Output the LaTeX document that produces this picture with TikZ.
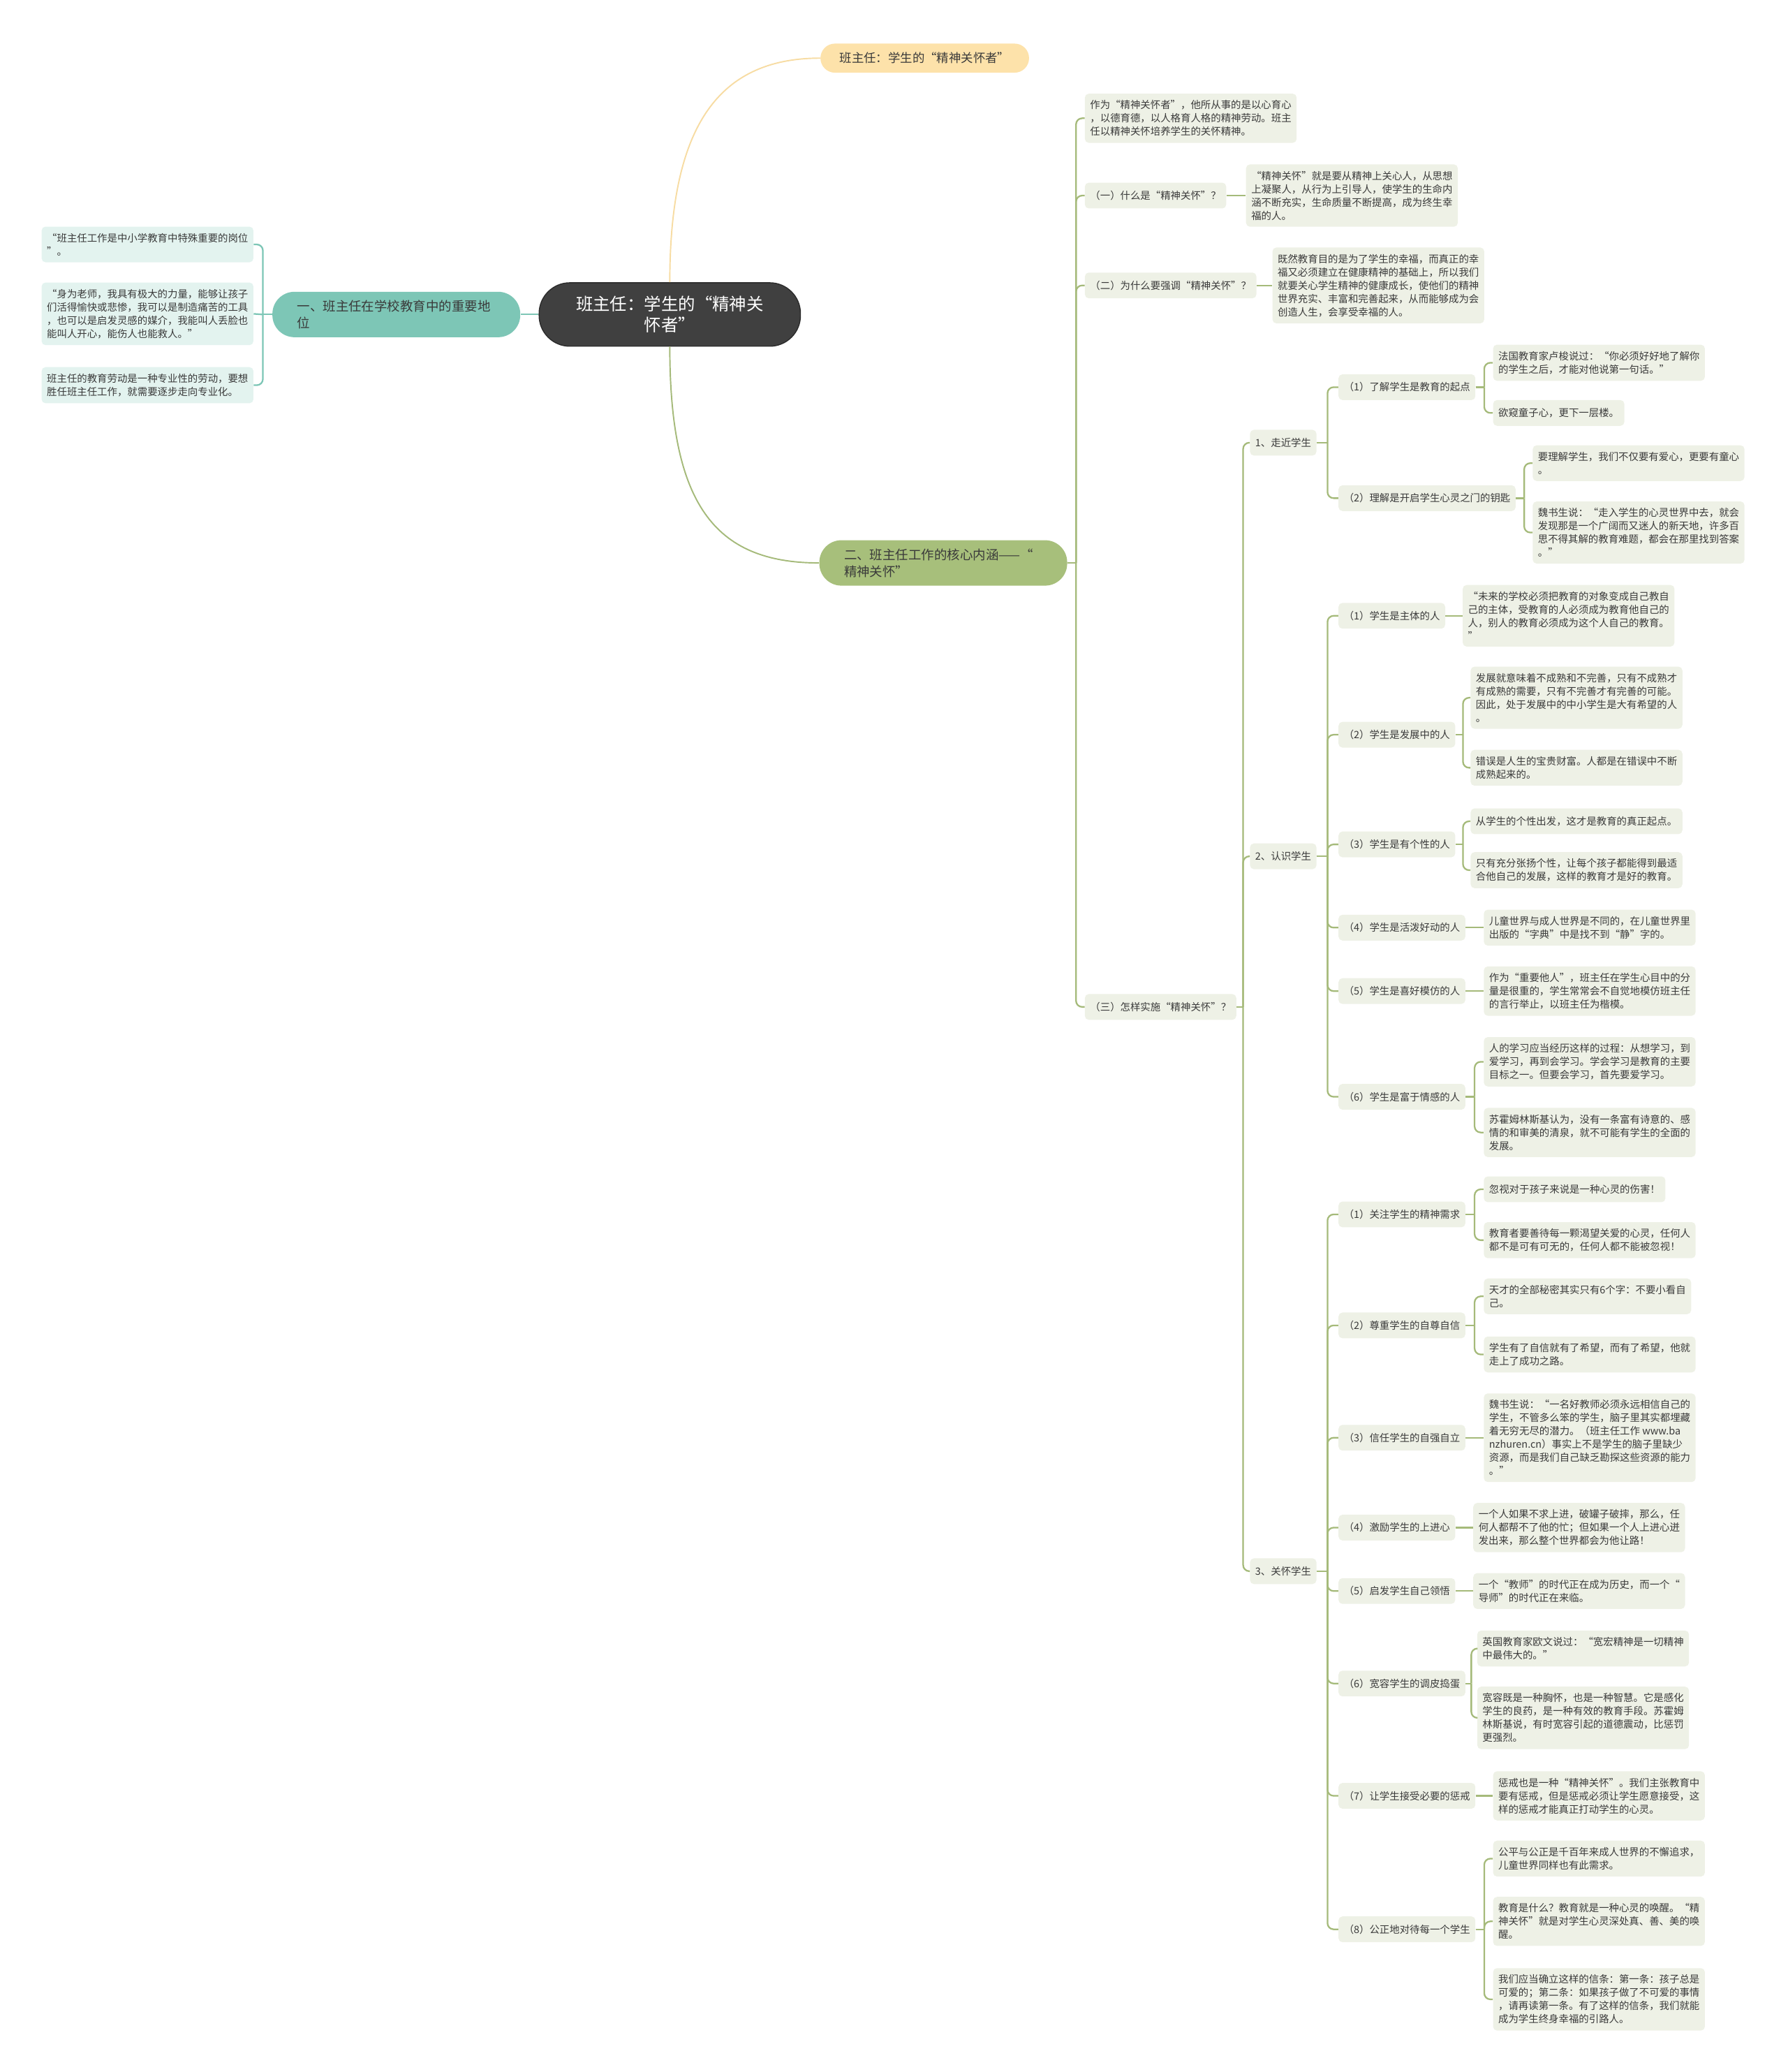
\documentclass[tikz,border=0pt]{standalone}
\usepackage{fontspec}
\setmainfont{Noto Sans CJK SC}
\usetikzlibrary{positioning,calc}
\definecolor{inkcol}{HTML}{3A3A3A}
\definecolor{leaffill}{HTML}{EEF1E6}
\definecolor{branchcol}{HTML}{A5BA7A}
\definecolor{tealcol}{HTML}{7DC6B6}
\definecolor{tealleaffill}{HTML}{E3F3EF}
\definecolor{goldcol}{HTML}{F7DCA3}
\definecolor{goldfill}{HTML}{FDE2AA}
\definecolor{olivefill}{HTML}{A7BF7B}
\definecolor{rootfill}{HTML}{404040}
\definecolor{rootedge}{HTML}{2B2B2B}
\newcommand{\leaffont}{\fontsize{8.2pt}{10.8pt}\selectfont}
\newcommand{\bigtopicfont}{\fontsize{10.5pt}{13.5pt}\selectfont}
\newcommand{\rootfont}{\fontsize{13.9pt}{17.2pt}\selectfont}

\begin{document}
\begin{tikzpicture}[x=0.03784cm, y=-0.03784cm,
        leaf/.style={fill=leaffill, text=inkcol, rounded corners=3.2pt, inner xsep=4.3pt, inner ysep=5.4pt,
            minimum height=21pt, align=left, anchor=west, font=\leaffont},
        tealleaf/.style={leaf, fill=tealleaffill, anchor=east},
        rootnode/.style={fill=rootfill, draw=rootedge, line width=0.8pt, text=white, align=center,
            rounded corners=25pt, minimum width=213pt, minimum height=51.7pt, font=\rootfont},
        goldnode/.style={fill=goldfill, text=inkcol, rounded corners=11.8pt, minimum width=170pt,
            minimum height=23.7pt, font=\fontsize{9.9pt}{12pt}\selectfont},
        bigtopic/.style={text=inkcol, rounded corners=18pt, minimum width=202pt, minimum height=37pt,
            text width=161.6pt, align=left, font=\bigtopicfont},
        branch/.style={draw=branchcol, line width=1.3pt, rounded corners=5pt},
        tealline/.style={draw=tealcol, line width=1.3pt, rounded corners=5pt},
        goldline/.style={draw=goldcol, line width=1.1pt},
        oliveline/.style={draw=branchcol, line width=1.1pt}
    ]
    \useasboundingbox (0,0) rectangle (1353,1568);

    % centre and first level
    \node[rootnode] (root) at (507,238) {班主任：学生的“精神关\\怀者”};
    \node[goldnode] (gold) at (700,44) {班主任：学生的“精神关怀者”};
    \node[bigtopic, fill=tealcol] (teal) at (300,238) {一、班主任在学校教育中的重要地\\位};
    \node[bigtopic, fill=olivefill] (olive) at (714,426) {二、班主任工作的核心内涵——“\\精神关怀”};

    \draw[goldline] (root.north) .. controls +(0,-114) and +(-80,0) .. (gold.west);
    \draw[oliveline] (root.south) .. controls +(0,118) and +(-80,0) .. (olive.west);
    \draw[tealline] (root) -- (teal);

    % left branch
    \node[tealleaf] (L1) at (192,185) {“班主任工作是中小学教育中特殊重要的岗位\\”。};
    \node[tealleaf] (L2) at (192,237.5) {“身为老师，我具有极大的力量，能够让孩子\\们活得愉快或悲惨，我可以是制造痛苦的工具\\，也可以是启发灵感的媒介，我能叫人丢脸也\\能叫人开心，能伤人也能救人。”};
    \node[tealleaf] (L3) at (192,291.5) {班主任的教育劳动是一种专业性的劳动，要想\\胜任班主任工作，就需要逐步走向专业化。};

    \coordinate (jteal) at ($(teal.west)!0.5!(teal.west -| L1.east)$);
    \draw[tealline, sharp corners] (teal.west) -- (jteal);
    \foreach \c in {L1,L3}
        \draw[tealline] (jteal) |- (\c.east);
    \draw[tealline, sharp corners] (jteal) -- (L2.east);

    % right branch, second level
    \node[leaf] (A) at (821,89.5) {作为“精神关怀者”，他所从事的是以心育心\\，以德育德，以人格育人格的精神劳动。班主\\任以精神关怀培养学生的关怀精神。};
    \node[leaf] (B) at (821,148) {（一）什么是“精神关怀”？};
    \node[leaf] (Bl) at (943,148) {“精神关怀”就是要从精神上关心人，从思想\\上凝聚人，从行为上引导人，使学生的生命内\\涵不断充实，生命质量不断提高，成为终生幸\\福的人。};
    \node[leaf] (C) at (821,216) {（二）为什么要强调“精神关怀”？};
    \node[leaf] (Cl) at (963,216) {既然教育目的是为了学生的幸福，而真正的幸\\福又必须建立在健康精神的基础上，所以我们\\就要关心学生精神的健康成长，使他们的精神\\世界充实、丰富和完善起来，从而能够成为会\\创造人生，会享受幸福的人。};
    \node[leaf] (D) at (821,762) {（三）怎样实施“精神关怀”？};

    \node[leaf] (D1) at (946,335) {1、走近学生};
    \node[leaf] (D2) at (946,648) {2、认识学生};
    \node[leaf] (D3) at (946,1189) {3、关怀学生};

    % 1、走近学生
    \node[leaf] (D1a) at (1013,293) {（1）了解学生是教育的起点};
    \node[leaf] (D1a1) at (1130,274.5) {法国教育家卢梭说过：“你必须好好地了解你\\的学生之后，才能对他说第一句话。”};
    \node[leaf] (D1a2) at (1130,312.5) {欲窥童子心，更下一层楼。};
    \node[leaf] (D1b) at (1013,377) {（2）理解是开启学生心灵之门的钥匙};
    \node[leaf] (D1b1) at (1160,350.5) {要理解学生，我们不仅要有爱心，更要有童心\\。};
    \node[leaf] (D1b2) at (1160,403) {魏书生说：“走入学生的心灵世界中去，就会\\发现那是一个广阔而又迷人的新天地，许多百\\思不得其解的教育难题，都会在那里找到答案\\。”};

    % 2、认识学生
    \node[leaf] (D2a) at (1013,466) {（1）学生是主体的人};
    \node[leaf] (D2a1) at (1107,466) {“未来的学校必须把教育的对象变成自己教自\\己的主体，受教育的人必须成为教育他自己的\\人，别人的教育必须成为这个人自己的教育。\\”};
    \node[leaf] (D2b) at (1013,556) {（2）学生是发展中的人};
    \node[leaf] (D2b1) at (1113,528) {发展就意味着不成熟和不完善，只有不成熟才\\有成熟的需要，只有不完善才有完善的可能。\\因此，处于发展中的中小学生是大有希望的人\\。};
    \node[leaf] (D2b2) at (1113,581) {错误是人生的宝贵财富。人都是在错误中不断\\成熟起来的。};
    \node[leaf] (D2c) at (1013,639) {（3）学生是有个性的人};
    \node[leaf] (D2c1) at (1113,621.5) {从学生的个性出发，这才是教育的真正起点。};
    \node[leaf] (D2c2) at (1113,658.5) {只有充分张扬个性，让每个孩子都能得到最适\\合他自己的发展，这样的教育才是好的教育。};
    \node[leaf] (D2d) at (1013,702) {（4）学生是活泼好动的人};
    \node[leaf] (D2d1) at (1123,702) {儿童世界与成人世界是不同的，在儿童世界里\\出版的“字典”中是找不到“静”字的。};
    \node[leaf] (D2e) at (1013,750) {（5）学生是喜好模仿的人};
    \node[leaf] (D2e1) at (1123,750) {作为“重要他人”，班主任在学生心目中的分\\量是很重的，学生常常会不自觉地模仿班主任\\的言行举止，以班主任为楷模。};
    \node[leaf] (D2f) at (1013,830) {（6）学生是富于情感的人};
    \node[leaf] (D2f1) at (1123,803.5) {人的学习应当经历这样的过程：从想学习，到\\爱学习，再到会学习。学会学习是教育的主要\\目标之一。但要会学习，首先要爱学习。};
    \node[leaf] (D2f2) at (1123,857) {苏霍姆林斯基认为，没有一条富有诗意的、感\\情的和审美的清泉，就不可能有学生的全面的\\发展。};

    % 3、关怀学生
    \node[leaf] (D3a) at (1013,919) {（1）关注学生的精神需求};
    \node[leaf] (D3a1) at (1123,900) {忽视对于孩子来说是一种心灵的伤害！};
    \node[leaf] (D3a2) at (1123,938.5) {教育者要善待每一颗渴望关爱的心灵，任何人\\都不是可有可无的，任何人都不能被忽视！};
    \node[leaf] (D3b) at (1013,1003) {（2）尊重学生的自尊自信};
    \node[leaf] (D3b1) at (1123,981) {天才的全部秘密其实只有6个字：不要小看自\\己。};
    \node[leaf] (D3b2) at (1123,1025) {学生有了自信就有了希望，而有了希望，他就\\走上了成功之路。};
    \node[leaf] (D3c) at (1013,1088) {（3）信任学生的自强自立};
    \node[leaf] (D3c1) at (1123,1088) {魏书生说：“一名好教师必须永远相信自己的\\学生，不管多么笨的学生，脑子里其实都埋藏\\着无穷无尽的潜力。（班主任工作 www.ba\\nzhuren.cn）事实上不是学生的脑子里缺少\\资源，而是我们自己缺乏勘探这些资源的能力\\。”};
    \node[leaf] (D3d) at (1013,1156) {（4）激励学生的上进心};
    \node[leaf] (D3d1) at (1115,1156) {一个人如果不求上进，破罐子破摔，那么，任\\何人都帮不了他的忙；但如果一个人上进心迸\\发出来，那么整个世界都会为他让路！};
    \node[leaf] (D3e) at (1013,1204) {（5）启发学生自己领悟};
    \node[leaf] (D3e1) at (1115,1204) {一个“教师”的时代正在成为历史，而一个“\\导师”的时代正在来临。};
    \node[leaf] (D3f) at (1013,1274) {（6）宽容学生的调皮捣蛋};
    \node[leaf] (D3f1) at (1118,1247.5) {英国教育家欧文说过：“宽宏精神是一切精神\\中最伟大的。”};
    \node[leaf] (D3f2) at (1118,1300) {宽容既是一种胸怀，也是一种智慧。它是感化\\学生的良药，是一种有效的教育手段。苏霍姆\\林斯基说，有时宽容引起的道德震动，比惩罚\\更强烈。};
    \node[leaf] (D3g) at (1013,1359) {（7）让学生接受必要的惩戒};
    \node[leaf] (D3g1) at (1130,1359) {惩戒也是一种“精神关怀”。我们主张教育中\\要有惩戒，但是惩戒必须让学生愿意接受，这\\样的惩戒才能真正打动学生的心灵。};
    \node[leaf] (D3h) at (1013,1460) {（8）公正地对待每一个学生};
    \node[leaf] (D3h1) at (1130,1406.5) {公平与公正是千百年来成人世界的不懈追求，\\儿童世界同样也有此需求。};
    \node[leaf] (D3h2) at (1130,1454) {教育是什么？教育就是一种心灵的唤醒。“精\\神关怀”就是对学生心灵深处真、善、美的唤\\醒。};
    \node[leaf] (D3h3) at (1130,1513) {我们应当确立这样的信条：第一条：孩子总是\\可爱的；第二条：如果孩子做了不可爱的事情\\，请再读第一条。有了这样的信条，我们就能\\成为学生终身幸福的引路人。};

    % brackets of the right branch
    \foreach \p/\kids in {olive/{A,B,C,D}, D/{D1,D2,D3},
            D1/{D1a,D1b}, D1a/{D1a1,D1a2}, D1b/{D1b1,D1b2},
            D2/{D2a,D2b,D2c,D2d,D2e,D2f}, D2b/{D2b1,D2b2}, D2c/{D2c1,D2c2}, D2f/{D2f1,D2f2},
            D3/{D3a,D3b,D3c,D3d,D3e,D3f,D3g,D3h}, D3a/{D3a1,D3a2}, D3b/{D3b1,D3b2},
            D3f/{D3f1,D3f2}, D3h/{D3h1,D3h2,D3h3}}{
        \foreach \c in \kids {
            \coordinate (j\p) at ($(\p.east)!0.5!(\p.east -| \c.west)$);
            \draw[branch, sharp corners] (\p.east) -- (j\p);
            \draw[branch] (j\p) |- (\c.west);
        }
    }

    % single children
    \foreach \p/\c in {B/Bl, C/Cl, D2a/D2a1, D2d/D2d1, D2e/D2e1, D3c/D3c1, D3d/D3d1, D3e/D3e1, D3g/D3g1}
        \draw[branch, sharp corners] (\p.east) -- (\c.west);
\end{tikzpicture}
\end{document}
